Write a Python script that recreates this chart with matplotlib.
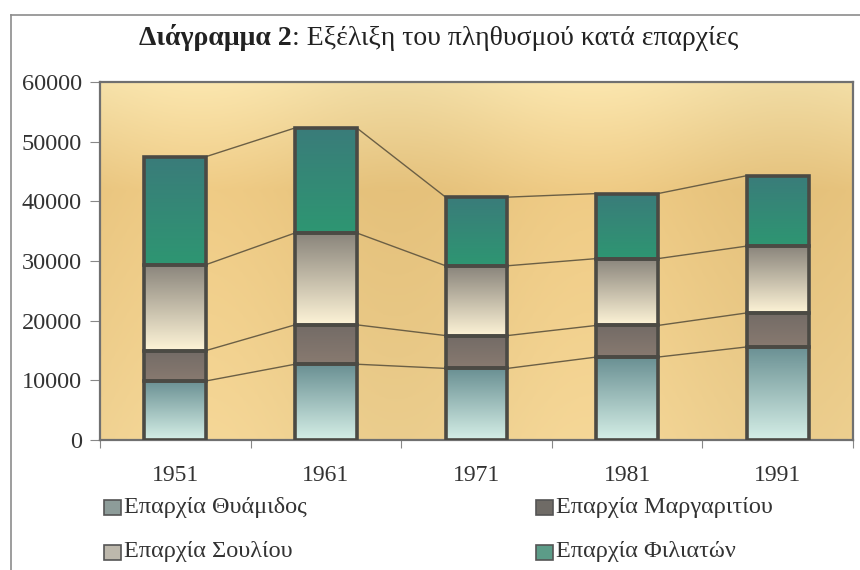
import numpy as np
import matplotlib
matplotlib.use("Agg")
import matplotlib.pyplot as plt
from matplotlib.colors import LinearSegmentedColormap, to_rgb
from matplotlib.patches import Rectangle

plt.rcParams['font.family'] = ['Liberation Serif', 'DejaVu Serif']

years = ['1951', '1961', '1971', '1981', '1991']
series_names = ['Επαρχία Θυάμιδος', 'Επαρχία Μαργαριτίου', 'Επαρχία Σουλίου', 'Επαρχία Φιλιατών']
thyamidos = [9900, 12700, 12000, 13900, 15600]
margaritiou = [5100, 6600, 5500, 5300, 5700]
souliou = [14400, 15400, 11700, 11200, 11200]
filiaton = [18100, 17600, 11500, 10900, 11800]
yticks = [0, 10000, 20000, 30000, 40000, 50000, 60000]

series = [thyamidos, margaritiou, souliou, filiaton]
grads = [('#6a9093', '#d4eee6'),
         ('#736b66', '#887a70'),
         ('#8a857c', '#fdf3d6'),
         ('#3a7c7a', '#2e9672')]
legend_cols = ['#8d9c99', '#6f6b66', '#bdb8ac', '#5c9c88']

W, H = 860, 570
fig = plt.figure(figsize=(W/100, H/100), dpi=100)

# outer chart frame
fig.add_artist(plt.Line2D([11/W, 11/W], [0, 1-15/H], color='#8c8c8c', lw=1.2, transform=fig.transFigure))
fig.add_artist(plt.Line2D([11/W, 1], [1-15/H, 1-15/H], color='#8c8c8c', lw=1.2, transform=fig.transFigure))

ax = fig.add_axes([100/W, (H-440)/H, 753/W, (440-82)/H])

# background gradient
ny, nx = 200, 200
yy = np.linspace(1, 0, ny)[:, None]
xx = np.linspace(0, 1, nx)[None, :]
top = np.array(to_rgb('#f6e1a9'))
mid = np.array(to_rgb('#eac680'))
bot = np.array(to_rgb('#f0d292'))
t = yy
img = np.where(t[..., None] > 0.7,
               mid + (top - mid) * ((t[..., None] - 0.7) / 0.3),
               bot + (mid - bot) * (t[..., None] / 0.7))
img = img * np.ones((1, nx, 1))
img = img + 0.02 * np.sin(xx[..., None] * 12) * np.ones((ny, 1, 1))
img = np.clip(img, 0, 1)
ax.imshow(img, extent=[0, 1, 0, 1], transform=ax.transAxes, aspect='auto', zorder=0)

x = np.arange(len(years))
width = 0.41
bottom = np.zeros(len(years))
cums = []
for vals, (c1, c2), name in zip(series, grads, series_names):
    bars = ax.bar(x, vals, width, bottom=bottom, facecolor='none',
                  edgecolor='#4b4a44', linewidth=2.6, zorder=3, label=name)
    cmap = LinearSegmentedColormap.from_list('g', [c2, c1])
    grad = np.linspace(0, 1, 100)[:, None]
    for b in bars:
        bx, by = b.get_x(), b.get_y()
        bw, bh = b.get_width(), b.get_height()
        im = ax.imshow(grad, cmap=cmap, extent=[bx, bx+bw, by, by+bh],
                       origin='lower', aspect='auto', zorder=2)
        im.set_clip_path(b)
    bottom = bottom + np.array(vals)
    cums.append(bottom.copy())

# series lines
for cum in cums:
    for i in range(len(years)-1):
        ax.plot([x[i]+width/2, x[i+1]-width/2], [cum[i], cum[i+1]],
                color='#6b5f45', lw=1.0, zorder=1.5)

ax.set_xlim(-0.5, len(years)-0.5)
ax.set_ylim(0, 60000)
ax.set_yticks(yticks)
ax.set_yticklabels([str(v) for v in yticks], fontsize=17.5, color='#333333')
ax.set_xticks(np.arange(-0.5, len(years), 1.0))
ax.set_xticklabels([])
ax.set_xticks(x, minor=True)
ax.set_xticklabels(years, minor=True, fontsize=17, color='#333333')
ax.tick_params(axis='x', which='minor', length=0, pad=18)
ax.tick_params(axis='x', which='major', length=6, direction='out', color='#888888')
ax.tick_params(axis='y', length=7, direction='out', color='#888888', pad=6)
for s in ax.spines.values():
    s.set_color('#707070')
    s.set_linewidth(1.6)

# title
fig.text(292/W, 1-45/H, 'Διάγραμμα 2', ha='right', va='baseline', fontsize=20, fontweight='bold', color='#222222')
fig.text(292/W, 1-45/H, ': Εξέλιξη του πληθυσμού κατά επαρχίες', ha='left', va='baseline', fontsize=20, color='#222222')

# legend (two columns)
legend_pos = [(104, 507), (536, 507), (104, 552), (536, 552)]
legend_order = [0, 1, 2, 3]
for idx, (lx, ly) in zip(legend_order, legend_pos):
    fig.add_artist(Rectangle(((lx)/W, 1-(ly+7.5)/H), 17/W, 15/H, transform=fig.transFigure,
                             facecolor=legend_cols[idx], edgecolor='#555555', lw=1.2))
    fig.text((lx+20)/W, 1-ly/H, series_names[idx], ha='left', va='center',
             fontsize=17.5, color='#333333')

fig.savefig('out.png', dpi=100)
